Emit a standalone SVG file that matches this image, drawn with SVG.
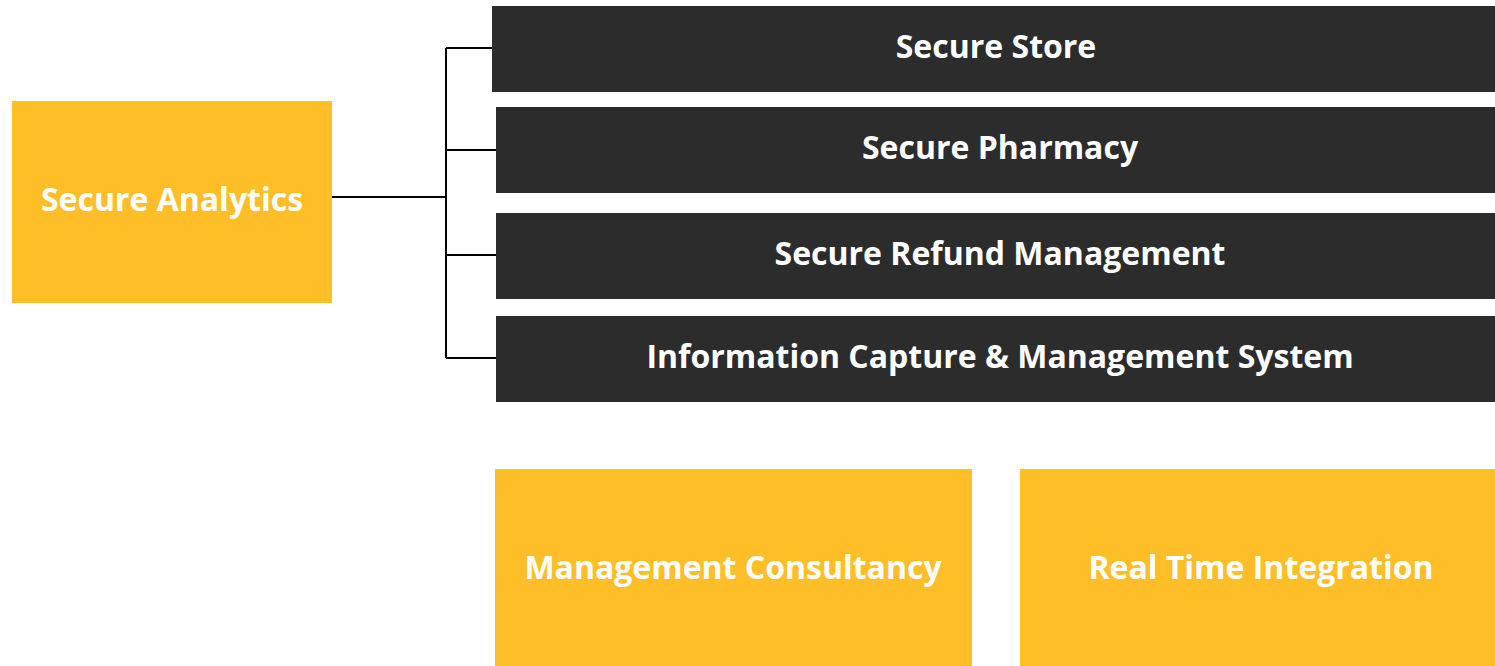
<svg xmlns="http://www.w3.org/2000/svg" width="1495" height="666" viewBox="0 0 1495 666">
<style>
.y{fill:#FDBE28}
.d{fill:#2C2C2C}
.t{fill:#FFFFFF;font-family:"Open Sans","Noto Sans","DejaVu Sans",sans-serif;font-weight:bold;font-size:32px;text-anchor:middle}
.c{stroke:#000;stroke-width:2;fill:none}
</style>
<rect width="1495" height="666" fill="#FFFFFF"/>
<g id="connectors">
<path class="c" d="M332 197H446M446 48V358M446 48H492M446 150H496M446 255H496M446 358H496"/>
</g>
<g id="secure-analytics">
<rect class="y" x="12" y="101" width="320" height="202"/>
<text class="t" x="172" y="211">Secure Analytics</text>
</g>
<g id="secure-store">
<rect class="d" x="492" y="6" width="1003" height="86"/>
<text class="t" x="996" y="58">Secure Store</text>
</g>
<g id="secure-pharmacy">
<rect class="d" x="496" y="107" width="999" height="86"/>
<text class="t" x="1000" y="159">Secure Pharmacy</text>
</g>
<g id="secure-refund">
<rect class="d" x="496" y="213" width="999" height="86"/>
<text class="t" x="1000" y="265">Secure Refund Management</text>
</g>
<g id="info-capture">
<rect class="d" x="496" y="316" width="999" height="86"/>
<text class="t" x="1000" y="368">Information Capture &amp; Management System</text>
</g>
<g id="management-consultancy">
<rect class="y" x="495" y="469" width="477" height="197"/>
<text class="t" x="733" y="579">Management Consultancy</text>
</g>
<g id="real-time-integration">
<rect class="y" x="1020" y="469" width="475" height="197"/>
<text class="t" x="1261" y="579">Real Time Integration</text>
</g>
</svg>
